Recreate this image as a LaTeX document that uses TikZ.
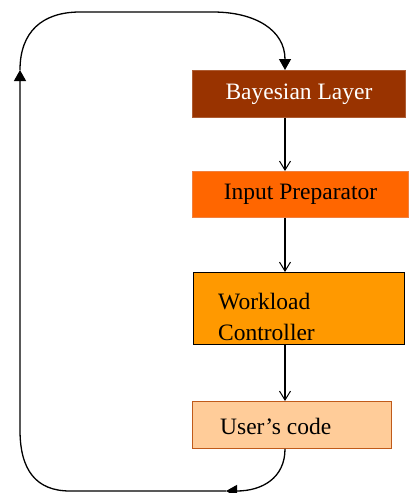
\documentclass[tikz,border=0pt]{standalone}
\usepackage{fontspec}
\setmainfont{Liberation Serif}
\usetikzlibrary{arrows.meta,calc}
\definecolor{bayes}{HTML}{993300}
\definecolor{inprep}{HTML}{FF6600}
\definecolor{inprepb}{HTML}{F08040}
\definecolor{workl}{HTML}{FF9900}
\definecolor{userc}{HTML}{FFCC99}
\definecolor{usercb}{HTML}{C05A1A}
\begin{document}
\begin{tikzpicture}[x=1pt,y=-1pt,
  box/.style={rectangle,anchor=north west,inner sep=0pt,line width=0.9pt,
    font=\fontsize{23.5}{31}\selectfont},
  txt/.style={anchor=north west,inner sep=0pt,align=left,
    font=\fontsize{23.5}{31}\selectfont},
  flow/.style={line width=1.2pt,-{Straight Barb[length=9pt,width=11pt,line width=1pt]}},
  loophead/.style={line width=1.3pt,-{Triangle[length=11pt,width=12pt]}}]
\useasboundingbox (0,0) rectangle (408,493);
\fill[white] (0,0) rectangle (408,493);
\node[box,fill=bayes,draw=bayes!80!white,text=white,minimum width=213pt,minimum height=47pt] (bl) at (192,70) {Bayesian Layer};
\node[box,fill=inprep,draw=inprepb,minimum width=216pt,minimum height=46pt] (ip) at (192,171) {Input Preparator};
\node[box,fill=workl,draw=black,minimum width=211pt,minimum height=72pt] (wc) at (193,272) {};
\node[txt] (wct) at (218,293) {Workload\\Controller};
\node[box,fill=userc,draw=usercb,minimum width=199pt,minimum height=47pt] (uc) at (192,401) {};
\node[txt] (uct) at (220,418) {User’s code};
\coordinate (colx) at (285,0);
\coordinate (bot) at (226,491);
\coordinate (lft) at (20,70);
\draw[flow] (bl.south -| colx) -- (ip.north -| colx);
\draw[flow] (ip.south -| colx) -- (wc.north -| colx);
\draw[flow] (wc.south -| colx) -- (uc.north -| colx);
\draw[loophead] (uc.south -| colx) .. controls (285,478) and (262,491) .. (bot);
\draw[loophead] (bot) -- (70,491) .. controls (36,491) and (20,470) .. (20,430) -- (lft);
\draw[loophead] (lft) .. controls (20,32) and (42,12) .. (80,12) -- (213,12) .. controls (255,12) and (285,30) .. (bl.north -| colx);
\end{tikzpicture}
\end{document}
